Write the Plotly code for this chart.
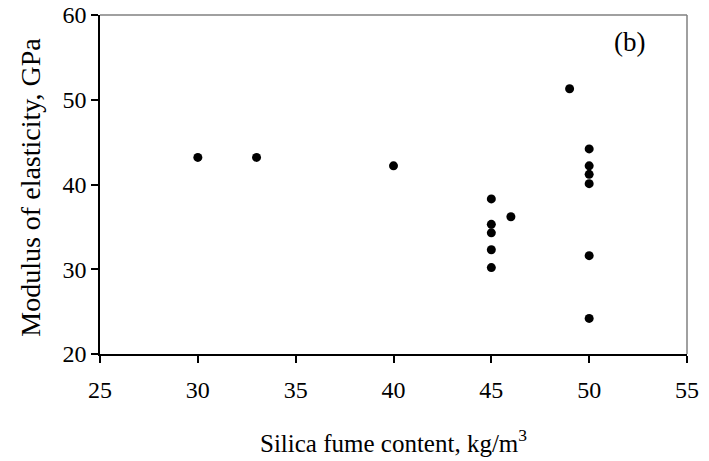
import plotly.graph_objects as go

silica_fume = [30, 33, 40, 45, 45, 45, 45, 45, 46, 49, 50, 50, 50, 50, 50, 50]
modulus = [43.2, 43.2, 42.2, 38.3, 35.3, 34.3, 32.3, 30.2, 36.2, 51.3, 44.2, 42.2, 41.2, 40.1, 31.6, 24.2]

x_ticks = [25, 30, 35, 40, 45, 50, 55]
y_ticks = [20, 30, 40, 50, 60]

x_title = "Silica fume content, kg/m<sup>3</sup>"
y_title = "Modulus of elasticity, GPa"
panel_label = "(b)"

FONT = "Liberation Serif, Times New Roman, serif"

fig = go.Figure()
fig.add_trace(go.Scatter(
    x=silica_fume, y=modulus, mode="markers",
    marker=dict(color="black", size=9, line=dict(width=0)),
    showlegend=False, hoverinfo="x+y",
))

# grey top/right box edges
fig.add_shape(type="line", xref="paper", yref="paper", x0=0, x1=1, y0=1, y1=1,
              line=dict(color="#808080", width=1.5))
fig.add_shape(type="line", xref="paper", yref="paper", x0=1, x1=1, y0=0, y1=1,
              line=dict(color="#808080", width=1.5))

fig.add_annotation(text=panel_label, xref="paper", yref="paper", x=0.902, y=0.92,
                   showarrow=False, font=dict(family=FONT, size=27, color="black"),
                   xanchor="center", yanchor="middle")
fig.add_annotation(text=x_title, xref="paper", yref="paper", x=0.5, y=-0.257,
                   showarrow=False, font=dict(family=FONT, size=25, color="black"),
                   xanchor="center", yanchor="middle")
fig.add_annotation(text=y_title, xref="paper", yref="paper", x=-0.119, y=0.491,
                   textangle=-90, showarrow=False,
                   font=dict(family=FONT, size=28, color="black"),
                   xanchor="center", yanchor="middle")

fig.update_xaxes(
    range=[25, 55], tickvals=x_ticks, ticktext=[str(v) for v in x_ticks],
    showgrid=False, zeroline=False, showline=True, linecolor="black", linewidth=1.5,
    ticks="outside", ticklen=7, tickwidth=1.5, tickcolor="black",
    tickfont=dict(family=FONT, size=24, color="black"), automargin=False,
    ticklabelstandoff=6,
)
fig.update_yaxes(
    range=[20, 60], tickvals=y_ticks, ticktext=[str(v) for v in y_ticks],
    showgrid=False, zeroline=False, showline=True, linecolor="black", linewidth=1.5,
    ticks="outside", ticklen=7, tickwidth=1.5, tickcolor="black",
    tickfont=dict(family=FONT, size=24, color="black"), automargin=False,
)
fig.update_layout(
    width=709, height=461,
    margin=dict(l=100, r=22, t=15, b=107, autoexpand=False),
    paper_bgcolor="white", plot_bgcolor="white",
    font=dict(family=FONT, color="black"),
)
fig.write_html("out.html", config={"displayModeBar": False},
               post_script="document.body.style.margin='0';")
